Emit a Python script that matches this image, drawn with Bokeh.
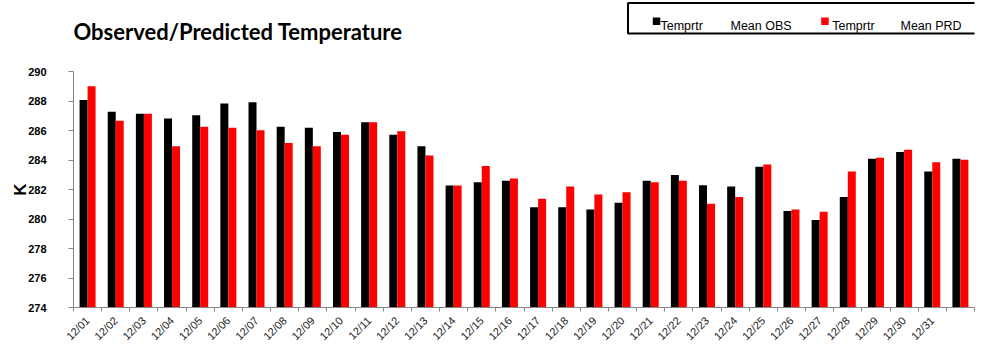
import math
import numpy as np
from bokeh.plotting import figure
from bokeh.layouts import column
from bokeh.models import Range1d, FixedTicker, ColumnDataSource
from bokeh.transform import dodge
from bokeh.core.properties import value
from bokeh.embed import file_html
from bokeh.resources import INLINE

# ---------------- data ----------------
dates = ["12/01", "12/02", "12/03", "12/04", "12/05", "12/06", "12/07", "12/08",
         "12/09", "12/10", "12/11", "12/12", "12/13", "12/14", "12/15", "12/16",
         "12/17", "12/18", "12/19", "12/20", "12/21", "12/22", "12/23", "12/24",
         "12/25", "12/26", "12/27", "12/28", "12/29", "12/30", "12/31"]
obs = [288.06, 287.27, 287.13, 286.81, 287.04, 287.83, 287.92, 286.25, 286.18, 285.89,
       286.56, 285.71, 284.94, 282.27, 282.50, 282.59, 280.80, 280.80, 280.64, 281.10,
       282.59, 282.99, 282.29, 282.20, 283.54, 280.55, 279.94, 281.50, 284.08, 284.55,
       283.22, 284.08]
prd = [289.00, 286.66, 287.13, 284.94, 286.25, 286.18, 286.02, 285.16, 284.94, 285.71,
       286.56, 285.95, 284.31, 282.27, 283.60, 282.75, 281.37, 282.20, 281.66, 281.82,
       282.50, 282.59, 281.03, 281.50, 283.69, 280.64, 280.49, 283.22, 284.15, 284.69,
       283.85, 284.01]
yticks = [274, 276, 278, 280, 282, 284, 286, 288, 290]
title_text = "Observed/Predicted Temperature"
legend_labels = ["Temprtr", "Mean  OBS", "Temprtr", "Mean  PRD"]
legend_colors = ["#000000", None, "#FF0000", None]
y_label = "K"

# ---------------- layout (pixels) ----------------
W, H = 983, 350
HEAD = 62                      # header strip with title and legend
FL, FT, FW, FH = 73, 71, 901, 236

# ---------------- header: title + legend ----------------
hd = figure(width=W, height=HEAD, x_range=Range1d(FL, FL + FW), y_range=Range1d(HEAD, 0),
            x_axis_type=None, y_axis_type=None, min_border=0,
            min_border_left=FL, min_border_right=W - FL - FW,
            output_backend="svg", toolbar_location=None)
hd.outline_line_color = None
hd.grid.visible = False

hd.text(x=[73], y=[31], text=[title_text], text_font=value("Lato"),
        text_font_style="bold", text_font_size=value("22px"), text_color="#000000",
        text_align="left", text_baseline="alphabetic")

hd.quad(left=[627.5], right=[1000], top=[2.5], bottom=[33], fill_color=None,
        line_color="#000000", line_width=2)

leg_glyph_x = [652.3, 723.0, 820.7, 893.0]
leg_text_x = [660.0, 730.0, 831.7, 900.0]
for lab, col, gx, tx in zip(legend_labels, legend_colors, leg_glyph_x, leg_text_x):
    if col is not None:
        hd.quad(left=[gx], right=[gx + 7.5], top=[17], bottom=[24.5],
                fill_color=col, line_color=None)
    hd.text(x=[tx], y=[25], text=[lab], text_font=value("Liberation Sans"),
            text_font_size=value("12.5px"), text_color="#000000",
            text_align="left", text_baseline="alphabetic")

# ---------------- main chart ----------------
n = len(obs)
x0, x1 = 0, n
y0, y1 = yticks[0], yticks[-1]
MH = H - HEAD
p = figure(width=W, height=MH, output_backend="svg", toolbar_location=None,
           x_range=Range1d(x0, x1), y_range=Range1d(y0, y1),
           min_border_left=FL, min_border_top=FT - HEAD, min_border_right=W - FL - FW,
           min_border_bottom=MH - (FT - HEAD) - FH)
p.outline_line_color = None
p.xgrid.visible = False
p.ygrid.visible = False

centers = np.arange(n) + 0.5
src = ColumnDataSource(dict(x=centers, obs=obs, prd=prd))
bw = 0.284
p.vbar(x=dodge("x", -bw / 2, range=p.x_range), top="obs", bottom=y0, width=bw,
       source=src, fill_color="#000000", line_color=None)
p.vbar(x=dodge("x", bw / 2, range=p.x_range), top="prd", bottom=y0, width=bw,
       source=src, fill_color="#FF0000", line_color=None)

axis_col = "#868686"
xa = p.xaxis[0]
xa.ticker = FixedTicker(ticks=list(centers[:len(dates)]), minor_ticks=list(range(x0, x1 + 1)))
xa.major_label_overrides = {float(c): d for c, d in zip(centers, dates)}
xa.major_label_orientation = math.pi / 4
xa.axis_line_color = axis_col
xa.major_tick_out = 0
xa.major_tick_in = 0
xa.minor_tick_out = 4
xa.minor_tick_in = 0
xa.minor_tick_line_color = axis_col
xa.major_label_text_font = "Liberation Sans"
xa.major_label_text_font_size = "11px"
xa.major_label_text_color = "#222222"
xa.major_label_standoff = 7

ya = p.yaxis[0]
ya.ticker = FixedTicker(ticks=yticks, minor_ticks=[])
ya.axis_line_color = axis_col
ya.major_tick_line_color = axis_col
ya.major_tick_out = 5
ya.major_tick_in = 0
ya.minor_tick_out = 0
ya.minor_tick_in = 0
ya.major_label_text_font = "Liberation Sans"
ya.major_label_text_font_style = "bold"
ya.major_label_text_font_size = "11px"
ya.major_label_text_color = "#000000"
ya.major_label_standoff = 22
ya.axis_label = y_label
ya.axis_label_text_font = "Liberation Sans"
ya.axis_label_text_font_style = "bold"
ya.axis_label_text_font_size = "17px"
ya.axis_label_text_color = "#000000"
ya.axis_label_standoff = -5

layout = column(hd, p, spacing=0)
open("out.html", "w").write(file_html(layout, INLINE))
